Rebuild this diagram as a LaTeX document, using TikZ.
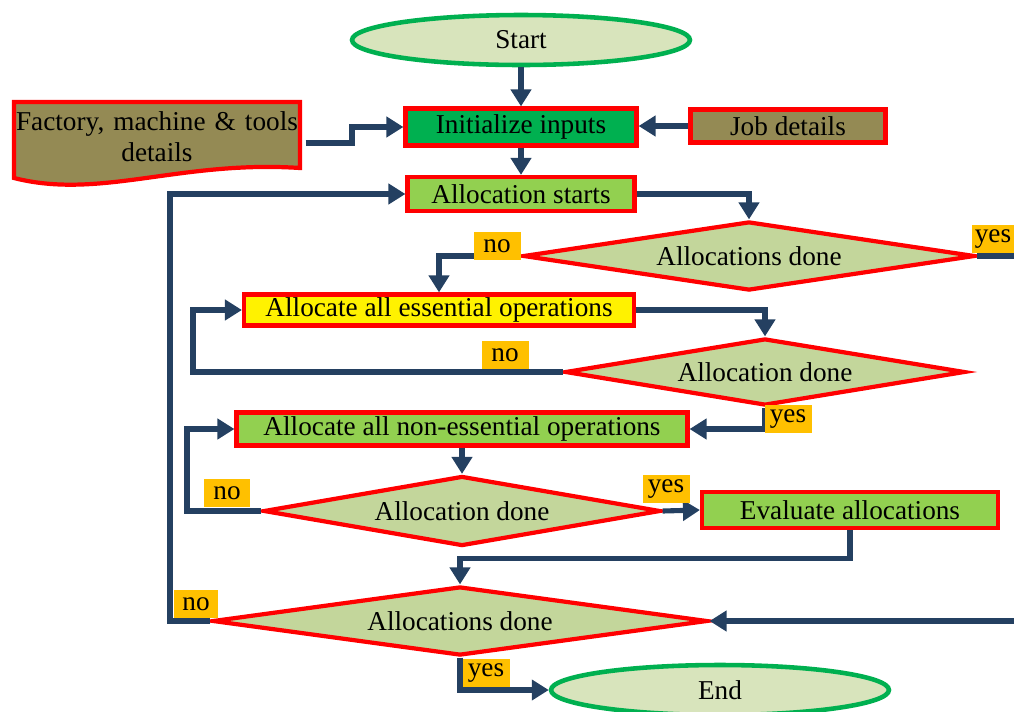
\documentclass[tikz,border=0pt]{standalone}
\usepackage{fontspec}
\setmainfont{Liberation Serif}
\usetikzlibrary{shapes.geometric,arrows.meta}
\definecolor{navy}{RGB}{36,64,97}
\definecolor{termline}{RGB}{0,176,80}
\definecolor{termfill}{RGB}{216,228,188}
\definecolor{decfill}{RGB}{195,214,155}
\definecolor{initfill}{RGB}{0,176,80}
\definecolor{leaf}{RGB}{146,208,80}
\definecolor{olivebox}{RGB}{148,138,84}
\definecolor{lblfill}{RGB}{255,192,0}

\begin{document}
\begin{tikzpicture}[x=0.02cm,y=-0.02cm,
   every node/.style={font=\rmfamily\fontsize{15.5}{17.6}\selectfont},
   proc/.style={draw=red,line width=2.4pt,inner sep=0pt},
   dec/.style={diamond,draw=red,fill=decfill,line width=2.4pt,inner sep=0pt,aspect=6.5},
   term/.style={ellipse,draw=termline,fill=termfill,line width=2.6pt,minimum width=6.76cm,minimum height=1cm},
   tlabel/.style={fill=lblfill,inner sep=0pt,minimum width=0.94cm,minimum height=0.56cm},
   arr/.style={draw=navy,line width=2.9pt,-{Triangle[length=0.34cm,width=0.4cm]}},
   line/.style={draw=navy,line width=2.9pt},
   ]
   \useasboundingbox (0,0) rectangle (1014,711);

   % shapes
   \node[term] (start) at (521,40) {Start};
   \draw[red,line width=2.4pt,fill=olivebox] (14,102) -- (300,102) -- (300,168)
      .. controls (180,160) and (100,200) .. (14,178) -- cycle;
   \node[align=center,text width=5.7cm,minimum width=5.8cm] (fac) at (157,137) {Factory, machine \& tools\\details};
   \node[proc,fill=initfill,minimum width=4.62cm,minimum height=0.74cm] (init) at (521,127) {Initialize inputs};
   \node[proc,fill=olivebox,minimum width=3.9cm,minimum height=0.66cm] (job) at (788,126) {Job details};
   \node[proc,fill=leaf,minimum width=4.54cm,minimum height=0.68cm] (alloc) at (521,194) {Allocation starts};
   \node[dec,minimum width=9.04cm,minimum height=1.38cm] (d1) at (749,256) {Allocations done};
   \node[proc,fill=yellow,minimum width=7.8cm,minimum height=0.62cm] (ess) at (439,310) {Allocate all essential operations};
   \node[dec,minimum width=8cm,minimum height=1.34cm] (d2) at (765,372) {Allocation done};
   \node[proc,fill=leaf,minimum width=9.02cm,minimum height=0.66cm] (ne) at (462,429) {Allocate all non-essential operations};
   \node[dec,minimum width=7.94cm,minimum height=1.4cm] (d3) at (462,511) {Allocation done};
   \node[proc,fill=leaf,minimum width=5.92cm,minimum height=0.72cm] (eval) at (850,510) {Evaluate allocations};
   \node[dec,minimum width=9.9cm,minimum height=1.38cm] (d4) at (460,621) {Allocations done};
   \node[term] (fin) at (720,690) {End};
   \coordinate (r1) at (1014,256);
   \coordinate (r4) at (1014,621);

   % connectors
   \draw[arr] (start) -- (init);
   \draw[arr] (fac.east |- 0,143) -- (352,143) |- (init.west);
   \draw[arr] (job.west) -- (init.east |- job.west);
   \draw[arr] (init) -- (alloc);
   \draw[arr] (alloc.east) -| (d1.north);
   \draw[arr] (d1.west) -| (ess.north);
   \draw[line] (d1.east) -- (r1);
   \draw[arr] (ess.east) -| (d2.north);
   \draw[arr] (d2.west) -| (193,340) |- (ess.west);
   \draw[arr] (d2.south) |- (ne.east);
   \draw[arr] (ne) -- (d3);
   \draw[arr] (d3.west) -| (187,470) |- (ne.west);
   \draw[arr] (d3.east) -- (eval.west);
   \draw[arr] (eval.south) -- ++(0,28) -| (d4.north);
   \draw[arr] (d4.west) -| (170,400) |- (alloc.west);
   \draw[arr] (r4) -- (d4.east);
   \draw[arr] (d4.south) |- (fin.west);

   % yes / no
   \node[tlabel] (no1) at (497,246) {no};
   \node[tlabel,minimum width=0.84cm] (yes1) at (993,239) {yes};
   \node[tlabel] (no2) at (505,355) {no};
   \node[tlabel] (yes2) at (788,419) {yes};
   \node[tlabel] (no3) at (227,493) {no};
   \node[tlabel] (yes3) at (666,489) {yes};
   \node[tlabel,minimum width=0.9cm] (no4) at (196,604) {no};
   \node[tlabel] (yes4) at (486,673) {yes};
\end{tikzpicture}
\end{document}
